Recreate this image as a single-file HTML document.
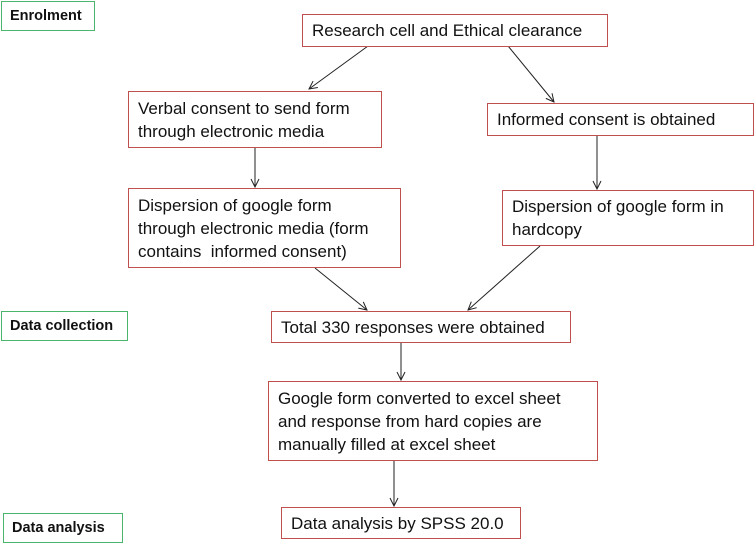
<!DOCTYPE html>
<html><head><style>
body{margin:0;width:756px;height:545px;background:#fff;position:relative;overflow:hidden;font-family:"Liberation Sans",sans-serif;color:#111}
.b{position:absolute;box-sizing:border-box;border:1.5px solid #c0504d;font-size:17px;line-height:23px;padding:0 0 0 9px;white-space:nowrap;background:#fff;display:flex;align-items:center}
.g{position:absolute;box-sizing:border-box;border:1.5px solid #4bb56b;font-size:14.5px;font-weight:bold;padding:0 0 0 8px;white-space:nowrap;background:#fff;display:flex;align-items:center}
svg{position:absolute;left:0;top:0}
</style></head><body>
<svg width="756" height="545"><defs><marker id="a" markerWidth="10" markerHeight="10" refX="9" refY="5" orient="auto" markerUnits="userSpaceOnUse"><path d="M1,1 L9,5 L1,9" fill="none" stroke="#222" stroke-width="1"/></marker></defs>
<g stroke="#222" stroke-width="1" marker-end="url(#a)">
<line x1="368" y1="46" x2="309" y2="89"/>
<line x1="508" y1="46" x2="554" y2="102"/>
<line x1="255" y1="148" x2="255" y2="187"/>
<line x1="597" y1="136" x2="597" y2="189"/>
<line x1="315" y1="268" x2="367" y2="310"/>
<line x1="540" y1="246" x2="468" y2="310"/>
<line x1="401" y1="343" x2="401" y2="380"/>
<line x1="394" y1="461" x2="394" y2="506"/>
</g></svg>
<div class="g" style="left:1px;top:1px;width:94px;height:30px">Enrolment</div>
<div class="g" style="left:1px;top:311px;width:127px;height:30px">Data collection</div>
<div class="g" style="left:3px;top:513px;width:120px;height:30px">Data analysis</div>
<div class="b" style="left:302px;top:14px;width:306px;height:33px">Research cell and Ethical clearance</div>
<div class="b" style="left:128px;top:91px;width:254px;height:57px">Verbal consent to send form<br>through electronic media</div>
<div class="b" style="left:487px;top:103px;width:267px;height:33px">Informed consent is obtained</div>
<div class="b" style="left:128px;top:188px;width:273px;height:80px">Dispersion of google form<br>through electronic media (form<br>contains&nbsp; informed consent)</div>
<div class="b" style="left:502px;top:190px;width:252px;height:56px">Dispersion of google form in<br>hardcopy</div>
<div class="b" style="left:271px;top:311px;width:300px;height:32px">Total 330 responses were obtained</div>
<div class="b" style="left:268px;top:381px;width:330px;height:80px">Google form converted to excel sheet<br>and response from hard copies are<br>manually filled at excel sheet</div>
<div class="b" style="left:281px;top:507px;width:240px;height:32px">Data analysis by SPSS 20.0</div>
</body></html>
